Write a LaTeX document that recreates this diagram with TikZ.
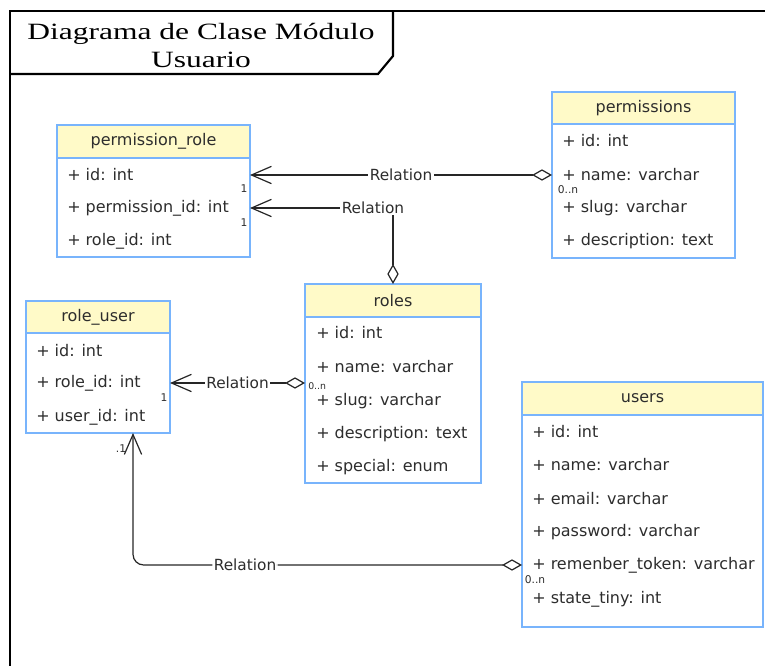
\documentclass[tikz,border=0pt]{standalone}
\usepackage{fontspec}
\setmainfont{Liberation Serif}
\setsansfont{DejaVu Sans}
\usepackage{graphicx}
\usetikzlibrary{arrows.meta, positioning}

\definecolor{classblue}{RGB}{120,180,252}
\definecolor{classhead}{RGB}{255,250,200}
\definecolor{txtgray}{RGB}{45,45,45}
\newcommand{\widetitle}[1]{\scalebox{1.35}[1]{#1}}

\begin{document}
\begin{tikzpicture}[x=0.75pt, y=-0.75pt,
    head/.style={draw=classblue, fill=classhead, line width=1.8pt, outer sep=0pt, inner sep=0pt,
      text=txtgray, font=\sffamily\fontsize{12}{14}\selectfont},
    body/.style={draw=classblue, fill=white, line width=1.8pt, outer sep=0pt, inner sep=0pt},
    attr/.style={anchor=west, inner sep=0pt, text=txtgray, font=\sffamily\fontsize{12}{14}\selectfont},
    rel/.style={draw=black!85, line width=0.9pt,
      {Diamond[open, length=15pt, width=8.5pt]}-{Straight Barb[length=15pt, width=13pt]}},
    relname/.style={fill=white, inner sep=1pt, text=txtgray, font=\sffamily\fontsize{11.5}{13}\selectfont},
    mult/.style={inner sep=0pt, text=txtgray, font=\sffamily\fontsize{8}{9}\selectfont},
    frame/.style={line width=1.6pt, line join=miter}]

  \useasboundingbox (0,0) rectangle (765,666);

  % frame and title
  \draw[frame] (10,666) -- (10,11) -- (765,11);
  \draw[frame] (10,74) -- (378,74) -- (393,56) -- (393,11);
  \node[align=center, inner sep=0pt, font=\fontsize{17.5}{21}\selectfont] (title) at (201,46)
    {\widetitle{Diagrama de Clase Módulo}\\ \widetitle{Usuario}};

  % permission_role
  \node[head, minimum width=144.75pt, minimum height=24.75pt] (prHead) at (153.5,141.5) {permission\_role};
  \node[body, minimum width=144.75pt, minimum height=74.25pt, below=0pt of prHead] (prBody) {};
  \node[attr] (pr1) at (67,175) {+ id: int};
  \node[attr] (pr2) at (67,208) {+ permission\_id: int};
  \node[attr] (pr3) at (67,241) {+ role\_id: int};

  % permissions
  \node[head, minimum width=137.25pt, minimum height=24pt] (pmHead) at (643.5,108) {permissions};
  \node[body, minimum width=137.25pt, minimum height=100.5pt, below=0pt of pmHead] (pmBody) {};
  \node[attr] (pm1) at (562,141) {+ id: int};
  \node[attr] (pm2) at (562,175) {+ name: varchar};
  \node[attr] (pm3) at (562,208) {+ slug: varchar};
  \node[attr] (pm4) at (562,241) {+ description: text};

  % roles
  \node[head, minimum width=132pt, minimum height=24.75pt] (roHead) at (393,300.5) {roles};
  \node[body, minimum width=132pt, minimum height=124.5pt, below=0pt of roHead] (roBody) {};
  \node[attr] (ro1) at (316,333) {+ id: int};
  \node[attr] (ro2) at (316,367) {+ name: varchar};
  \node[attr] (ro3) at (316,401) {+ slug: varchar};
  \node[attr] (ro4) at (316,434) {+ description: text};
  \node[attr] (ro5) at (316,467) {+ special: enum};

  % role_user
  \node[head, minimum width=108pt, minimum height=24pt] (ruHead) at (98,317) {role\_user};
  \node[body, minimum width=108pt, minimum height=75pt, below=0pt of ruHead] (ruBody) {};
  \node[attr] (ru1) at (36,351) {+ id: int};
  \node[attr] (ru2) at (36,383) {+ role\_id: int};
  \node[attr] (ru3) at (36,417) {+ user\_id: int};

  % users
  \node[head, minimum width=180.75pt, minimum height=24.75pt] (usHead) at (642.5,398.5) {users};
  \node[body, minimum width=180.75pt, minimum height=159pt, below=0pt of usHead] (usBody) {};
  \node[attr] (us1) at (532,432) {+ id: int};
  \node[attr] (us2) at (532,465) {+ name: varchar};
  \node[attr] (us3) at (532,499) {+ email: varchar};
  \node[attr] (us4) at (532,532) {+ password: varchar};
  \node[attr] (us5) at (532,565) {+ remenber\_token: varchar};
  \node[attr] (us6) at (532,599) {+ state\_tiny: int};

  % relations
  \draw[rel] (pmBody.west |- pm2) -- node[relname] {Relation} (prBody.east |- pr1);
  \draw[rel] (roHead.north) |- node[relname, pos=0.57] {Relation} (prBody.east |- pr2);
  \draw[rel] (roBody.west |- ru2) -- node[relname] {Relation} (ruBody.east |- ru2);
  \draw[rel, rounded corners=8pt] (usBody.west |- us5) -| node[relname, pos=0.356] {Relation}
    ([xshift=26.25pt]ruBody.south);

  % multiplicities
  \node[mult] (m1) at (244,189) {1};
  \node[mult] (m2) at (568,190) {0..n};
  \node[mult] (m3) at (244,223) {1};
  \node[mult] (m4) at (164,398) {1};
  \node[mult, anchor=west, font=\sffamily\fontsize{7}{8}\selectfont] (m5) at (308,386) {0..n};
  \node[mult] (m6) at (121,449) {.1};
  \node[mult] (m7) at (535,580) {0..n};
\end{tikzpicture}
\end{document}
